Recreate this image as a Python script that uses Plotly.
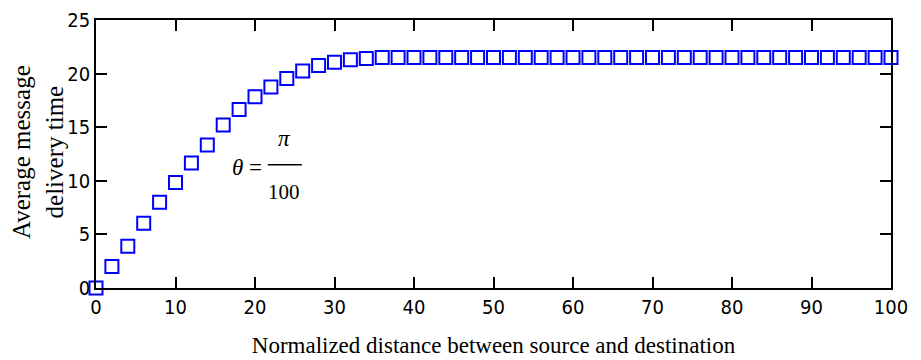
import plotly.graph_objects as go

distance = [0, 2, 4, 6, 8, 10, 12, 14, 16, 18, 20, 22, 24, 26, 28, 30, 32, 34, 36, 38,
            40, 42, 44, 46, 48, 50, 52, 54, 56, 58, 60, 62, 64, 66, 68, 70, 72, 74, 76, 78,
            80, 82, 84, 86, 88, 90, 92, 94, 96, 98, 100]
delivery_time = [0.0, 2.0, 3.9, 6.05, 8.0, 9.85, 11.65, 13.35, 15.2, 16.65, 17.85, 18.75, 19.55,
                 20.25, 20.75, 21.05, 21.3, 21.4, 21.5, 21.5, 21.5, 21.5, 21.5, 21.5, 21.5,
                 21.5, 21.5, 21.5, 21.5, 21.5, 21.5, 21.5, 21.5, 21.5, 21.5, 21.5, 21.5, 21.5,
                 21.5, 21.5, 21.5, 21.5, 21.5, 21.5, 21.5, 21.5, 21.5, 21.5, 21.5, 21.5, 21.5]
x_ticks = [0, 10, 20, 30, 40, 50, 60, 70, 80, 90, 100]
y_ticks = [0, 5, 10, 15, 20, 25]

tick_font = dict(family="DejaVu Sans Condensed, Liberation Sans Narrow, Liberation Sans", size=20, color="black")
serif = "Liberation Serif, Times New Roman, serif"

fig = go.Figure()
fig.add_trace(go.Scatter(
    x=distance, y=delivery_time, mode="markers",
    marker=dict(symbol="square-open", size=13, color="#0000FF", line=dict(width=2, color="#0000FF")),
    cliponaxis=False, showlegend=False,
))

axis_common = dict(showline=True, linecolor="black", linewidth=1.5, mirror="ticks",
                   ticks="inside", ticklen=11, tickwidth=1.5, tickcolor="black",
                   showgrid=False, zeroline=False, tickfont=tick_font, automargin=False)

# page body has an 8px margin, so the figure is sized to fit the 921x360 window
fig.update_layout(
    width=913, height=352,
    margin=dict(l=88, r=30, t=12, b=72),
    plot_bgcolor="white", paper_bgcolor="white",
    xaxis=dict(range=[0, 100], tickvals=x_ticks, ticklabelstandoff=0,
               title=dict(text="Normalized distance between source and destination",
                          font=dict(family=serif, size=23, color="black"), standoff=19),
               **axis_common),
    yaxis=dict(range=[0, 25], tickvals=y_ticks, ticklabelstandoff=0, **axis_common),
)

fig.add_annotation(x=0, y=0.5, xref="paper", yref="paper", xshift=-58, yshift=2,
                   text="Average message<br>delivery time", textangle=-90, showarrow=False,
                   xanchor="center", yanchor="middle",
                   font=dict(family=serif, size=25, color="black"))

# theta = pi/100 label
fig.add_annotation(x=19.0, y=11.2, xref="x", yref="y", text="<i>θ</i> =", showarrow=False,
                   font=dict(family=serif, size=23, color="black"))
fig.add_annotation(x=23.7, y=13.9, xref="x", yref="y", text="<i>π</i>", showarrow=False,
                   font=dict(family=serif, size=23, color="black"))
fig.add_annotation(x=23.7, y=9.0, xref="x", yref="y", text="100", showarrow=False,
                   font=dict(family=serif, size=21, color="black"))
fig.add_shape(type="line", xref="x", yref="y", x0=21.6, x1=25.9, y0=11.5, y1=11.5,
              line=dict(color="black", width=1.5))

fig.write_html("out.html")
